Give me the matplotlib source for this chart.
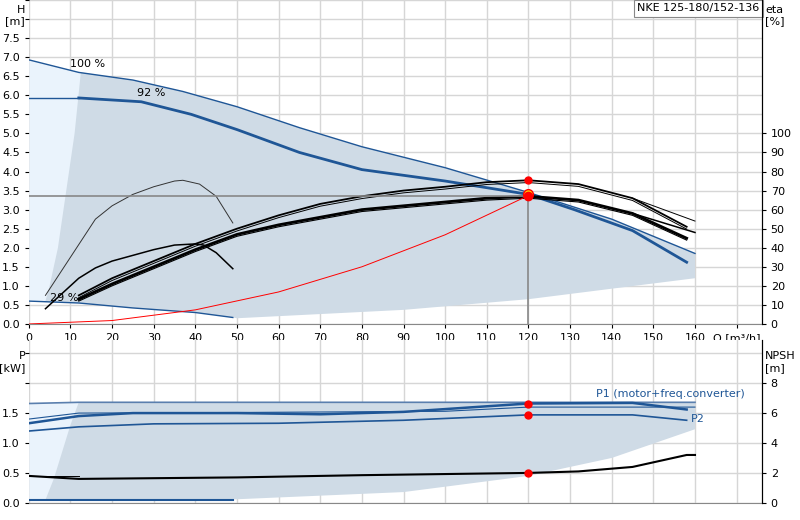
import numpy as np
import matplotlib.pyplot as plt

# ---------------- data (Q in m3/h) ----------------
q_100 = [0, 12, 25, 37, 50, 65, 80, 100, 120, 140, 160]
h_100 = [6.93, 6.6, 6.4, 6.1, 5.7, 5.15, 4.65, 4.1, 3.45, 2.75, 1.85]

q_92 = [12, 27, 39, 50, 65, 80, 100, 120, 131, 145, 158]
h_92 = [5.93, 5.83, 5.5, 5.1, 4.5, 4.05, 3.75, 3.4, 3.0, 2.45, 1.62]

q_29 = [0, 12, 25, 40, 49]
h_29 = [0.6, 0.55, 0.42, 0.3, 0.17]

q_low = [49, 50, 90, 120, 160]
h_low = [0.17, 0.15, 0.37, 0.65, 1.2]

q_left = [4, 5, 7, 9, 11, 12.5]
h_left = [0.6, 1.0, 2.0, 3.5, 5.0, 6.6]

# efficiency (%)
q_eta_a = [4, 10, 16, 20, 25, 30, 35, 37, 41, 45, 49]
eta_a = [15, 35, 55, 62, 68, 72, 75, 75.4, 73.4, 67, 53]
q_eta_b = [4, 12, 16, 20, 25, 30, 35, 40, 42, 45, 49]
eta_b = [8, 24, 29.4, 33, 36, 39, 41.4, 42, 41.4, 37.4, 29]
q_eta = [12, 20, 30, 40, 50, 60, 70, 80, 90, 100, 110, 120, 132, 145, 158]
eta_hi = [15, 24, 33, 42, 50, 57, 63, 67, 70, 72, 74.4, 75.4, 73.4, 66, 51]
eta_lo = [13, 21, 30, 39, 47, 52, 56, 60, 62, 64, 66, 67, 65, 58, 45]
q_eta_end = [145, 160]
eta_hi_end = [66, 54]
eta_lo_end = [58, 48]

q_sys = [0, 20, 40, 60, 80, 100, 120]
h_sys = [0, 0.09, 0.37, 0.84, 1.5, 2.34, 3.37]

q_duty, h_duty, eta_duty = 120, 3.37, 75.4

# power (kW) and NPSH (m)
q_env = [0, 12, 160]
p_env = [1.66, 1.68, 1.68]
q_p1 = [0, 12, 25, 50, 70, 90, 120, 145, 158]
p1 = [1.33, 1.45, 1.5, 1.5, 1.48, 1.52, 1.66, 1.67, 1.56]
q_p1b = [0, 12, 50, 100, 120, 160]
p1b = [1.4, 1.5, 1.51, 1.53, 1.6, 1.6]
q_p2 = [0, 12, 30, 60, 90, 120, 145, 158]
p2 = [1.2, 1.27, 1.32, 1.33, 1.38, 1.47, 1.47, 1.38]
q_pbot = [12, 50, 90, 120, 140, 160]
p_bot = [0.05, 0.06, 0.18, 0.45, 0.75, 1.23]
q_pleft = [4, 6, 8, 10, 12]
p_pleft = [0.05, 0.4, 0.85, 1.3, 1.68]
q_npsh = [0, 12, 50, 80, 120, 132, 145, 158, 160]
npsh = [1.8, 1.6, 1.7, 1.85, 2.0, 2.1, 2.4, 3.2, 3.2]
q_p29 = [0, 49]
p29 = [0.05, 0.05]

title = "NKE 125-180/152-136"

# ---------------- figure ----------------
fig = plt.figure(figsize=(8, 5.2), dpi=100)
ax = fig.add_axes([0.036, 0.377, 0.916, 0.623])
bx = fig.add_axes([0.036, 0.033, 0.916, 0.313])
fill_dark = "#cfdbe6"
fill_light = "#eaf3fc"
blue = "#1f5696"
grid_c = "#d6d6d6"

for a in (ax, bx):
    a.set_xlim(0, 176)
    a.set_xticks(np.arange(0, 180, 10))
    a.grid(True, color=grid_c, lw=1)
    a.set_axisbelow(True)
    for s in ("top", "left"):
        a.spines[s].set_visible(False)
    a.spines["bottom"].set_color("#888888")
    a.spines["right"].set_color("black")
    a.tick_params(labelsize=8, length=3)

# --- top: shaded areas
qq = np.linspace(0, 12.5, 30)
ax.fill_between(qq, np.interp(qq, q_29, h_29), np.interp(qq, q_100, h_100),
                color=fill_light, lw=0)
up_q = [q for q in q_100 if q >= 12.5]
up_h = [h for q, h in zip(q_100, h_100) if q >= 12.5]
px = q_left + up_q + q_low[::-1] + [40, 25, 12, 4]
py = h_left + up_h + h_low[::-1] + [0.3, 0.42, 0.55, 0.6]
ax.fill(px, py, color=fill_dark, lw=0)

ax.plot(q_100, h_100, color=blue, lw=1)
ax.plot([0, q_92[0]], [h_92[0], h_92[0]], color=blue, lw=1)
ax.plot(q_92, h_92, color=blue, lw=2)
ax.plot(q_29, h_29, color=blue, lw=1)
ax.text(10, 6.75, "100 %", fontsize=8)
ax.text(26, 5.97, "92 %", fontsize=8)
ax.text(5, 0.6, "29 %", fontsize=8)

ax.plot(q_eta_a, np.array(eta_a) / 20, color="#333333", lw=0.7)
ax.plot(q_eta_b, np.array(eta_b) / 20, color="black", lw=1.1)
ax.plot(q_eta, np.array(eta_hi) / 20, color="black", lw=1.3)
ax.plot(q_eta, np.array(eta_hi) / 20 - 0.06, color="black", lw=0.7)
ax.plot(q_eta, np.array(eta_lo) / 20, color="black", lw=2)
ax.plot(q_eta, np.array(eta_lo) / 20 - 0.05, color="black", lw=0.8)
ax.plot(q_eta_end, np.array(eta_hi_end) / 20, color="black", lw=0.7)
ax.plot(q_eta_end, np.array(eta_lo_end) / 20, color="black", lw=1.1)

ax.plot(q_sys, h_sys, color="red", lw=0.7)
ax.plot([0, q_duty], [h_duty, h_duty], color="#888888", lw=1.2)
ax.plot([q_duty, q_duty], [0, h_duty], color="#888888", lw=1.2)
ax.plot(q_duty, eta_duty / 20, "o", color="red", ms=5)
ax.plot(q_duty, h_duty + 0.05, "o", color="#ffd700", mec="red", ms=7)
ax.plot(q_duty, h_duty, "o", color="red", ms=6)

ax.set_ylim(0, 8.5)
ax.set_yticks(np.arange(0, 8.51, 0.5))
ax.set_yticklabels([f"{v:.1f}" if v <= 7.5 else "" for v in np.arange(0, 8.51, 0.5)])
ax.set_xticklabels([str(v) if v <= 160 else "Q [m³/h]" for v in range(0, 180, 10)])
ax.tick_params(axis="y", left=False)
rx = ax.twinx()
rx.set_ylim(0, 8.5 * 20)
rx.set_yticks(np.arange(0, 101, 10))
rx.tick_params(labelsize=8, length=3)
for s in ("top", "left", "bottom"):
    rx.spines[s].set_visible(False)
ax.text(-0.005, 0.985, "H\n[m]", transform=ax.transAxes, ha="right", va="top", fontsize=8)
rx.text(1.005, 0.985, "eta\n[%]", transform=ax.transAxes, ha="left", va="top", fontsize=8)
ax.text(0.997, 0.99, title, transform=ax.transAxes, ha="right", va="top", fontsize=8,
        bbox=dict(boxstyle="square,pad=0.3", fc="white", ec="#888888", lw=0.8))

# --- bottom
qq2 = np.linspace(0, 12, 30)
bx.fill_between(qq2, 0.05, np.interp(qq2, q_env, p_env), color=fill_light, lw=0)
bpx = q_pleft + [160] + q_pbot[::-1]
bpy = p_pleft + [1.68] + p_bot[::-1]
bx.fill(bpx, bpy, color=fill_dark, lw=0)
bx.plot(q_env, p_env, color="#5a7fae", lw=1.2)
bx.plot(q_p1b, p1b, color=blue, lw=0.8)
bx.plot(q_p1, p1, color=blue, lw=1.8)
bx.plot(q_p2, p2, color=blue, lw=1.2)
bx.plot(q_p29, p29, color=blue, lw=1.5)
bx.plot(q_npsh, np.array(npsh) / 4, color="black", lw=1.5)
bx.plot([0, 12], [0.45, 0.45], color="black", lw=0.7)
for p in (p1[6], p2[5], npsh[4] / 4):
    bx.plot(q_duty, p, "o", color="red", ms=5)
bx.text(172, 1.77, "P1 (motor+freq.converter)", color=blue, fontsize=8, ha="right")
bx.text(159, 1.35, "P2", color=blue, fontsize=8)
bx.set_ylim(0, 2.72)
bx.set_yticks([0, 0.5, 1.0, 1.5, 2.0, 2.5])
bx.set_yticklabels(["0.0", "0.5", "1.0", "1.5", "", ""])
bx.set_xticklabels([])
bx.tick_params(axis="y", left=False)
bx.tick_params(axis="x", bottom=False)
rb = bx.twinx()
rb.set_ylim(0, 2.72 * 4)
rb.set_yticks([0, 2, 4, 6, 8])
rb.tick_params(labelsize=8, length=3)
for s in ("top", "left", "bottom"):
    rb.spines[s].set_visible(False)
bx.text(-0.005, 0.93, "P\n[kW]", transform=bx.transAxes, ha="right", va="top", fontsize=8)
bx.text(1.005, 0.93, "NPSH\n[m]", transform=bx.transAxes, ha="left", va="top", fontsize=8)

fig.savefig("out.png", dpi=100)
